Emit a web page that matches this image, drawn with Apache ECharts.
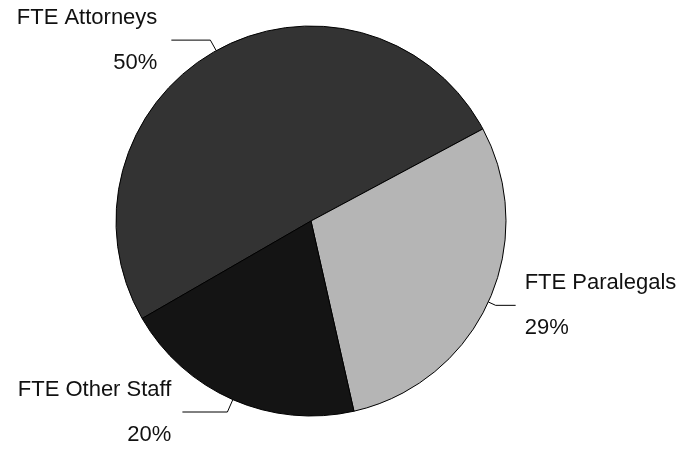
<!DOCTYPE html>
<html>
<head>
<meta charset="utf-8">
<script src="https://cdn.jsdelivr.net/npm/echarts@6/dist/echarts.min.js"></script>
<style>
html,body{margin:0;padding:0;background:#fff;}
#chart{width:683px;height:450px;}
</style>
</head>
<body>
<div id="chart"></div>
<script>
// Data
const categories = ['FTE Attorneys', 'FTE Paralegals', 'FTE Other Staff'];
const values = [50, 29, 20];

// Styling (separate from data)
const sliceColors = ['#333333', '#b5b5b5', '#141414'];
const lineLen = [12, 8, 13.5];
const lineLen2 = [39, 20, 45];
const labelGap = [14, 9, 11];

const chart = echarts.init(document.getElementById('chart'));
chart.setOption({
  backgroundColor: '#ffffff',
  animation: false,
  series: [{
    type: 'pie',
    center: [311, 221],
    radius: 195,
    startAngle: 210,
    clockwise: true,
    avoidLabelOverlap: false,
    itemStyle: { borderColor: '#000', borderWidth: 1 },
    label: {
      show: true,
      position: 'outside',
      formatter: p => '{n|' + p.name + '}\n{p|' + p.value + '%}',
      rich: {
        n: { fontSize: 22, lineHeight: 45, color: '#111', fontFamily: 'Liberation Sans, Arial, sans-serif' },
        p: { fontSize: 22, lineHeight: 45, color: '#111', fontFamily: 'Liberation Sans, Arial, sans-serif' }
      }
    },
    labelLine: {
      show: true,
      lineStyle: { color: '#000', width: 1 }
    },
    data: categories.map((c, i) => ({
      name: c,
      value: values[i],
      itemStyle: { color: sliceColors[i] },
      label: { distanceToLabelLine: labelGap[i] },
      labelLine: { length: lineLen[i], length2: lineLen2[i] }
    }))
  }]
});
</script>
</body>
</html>
